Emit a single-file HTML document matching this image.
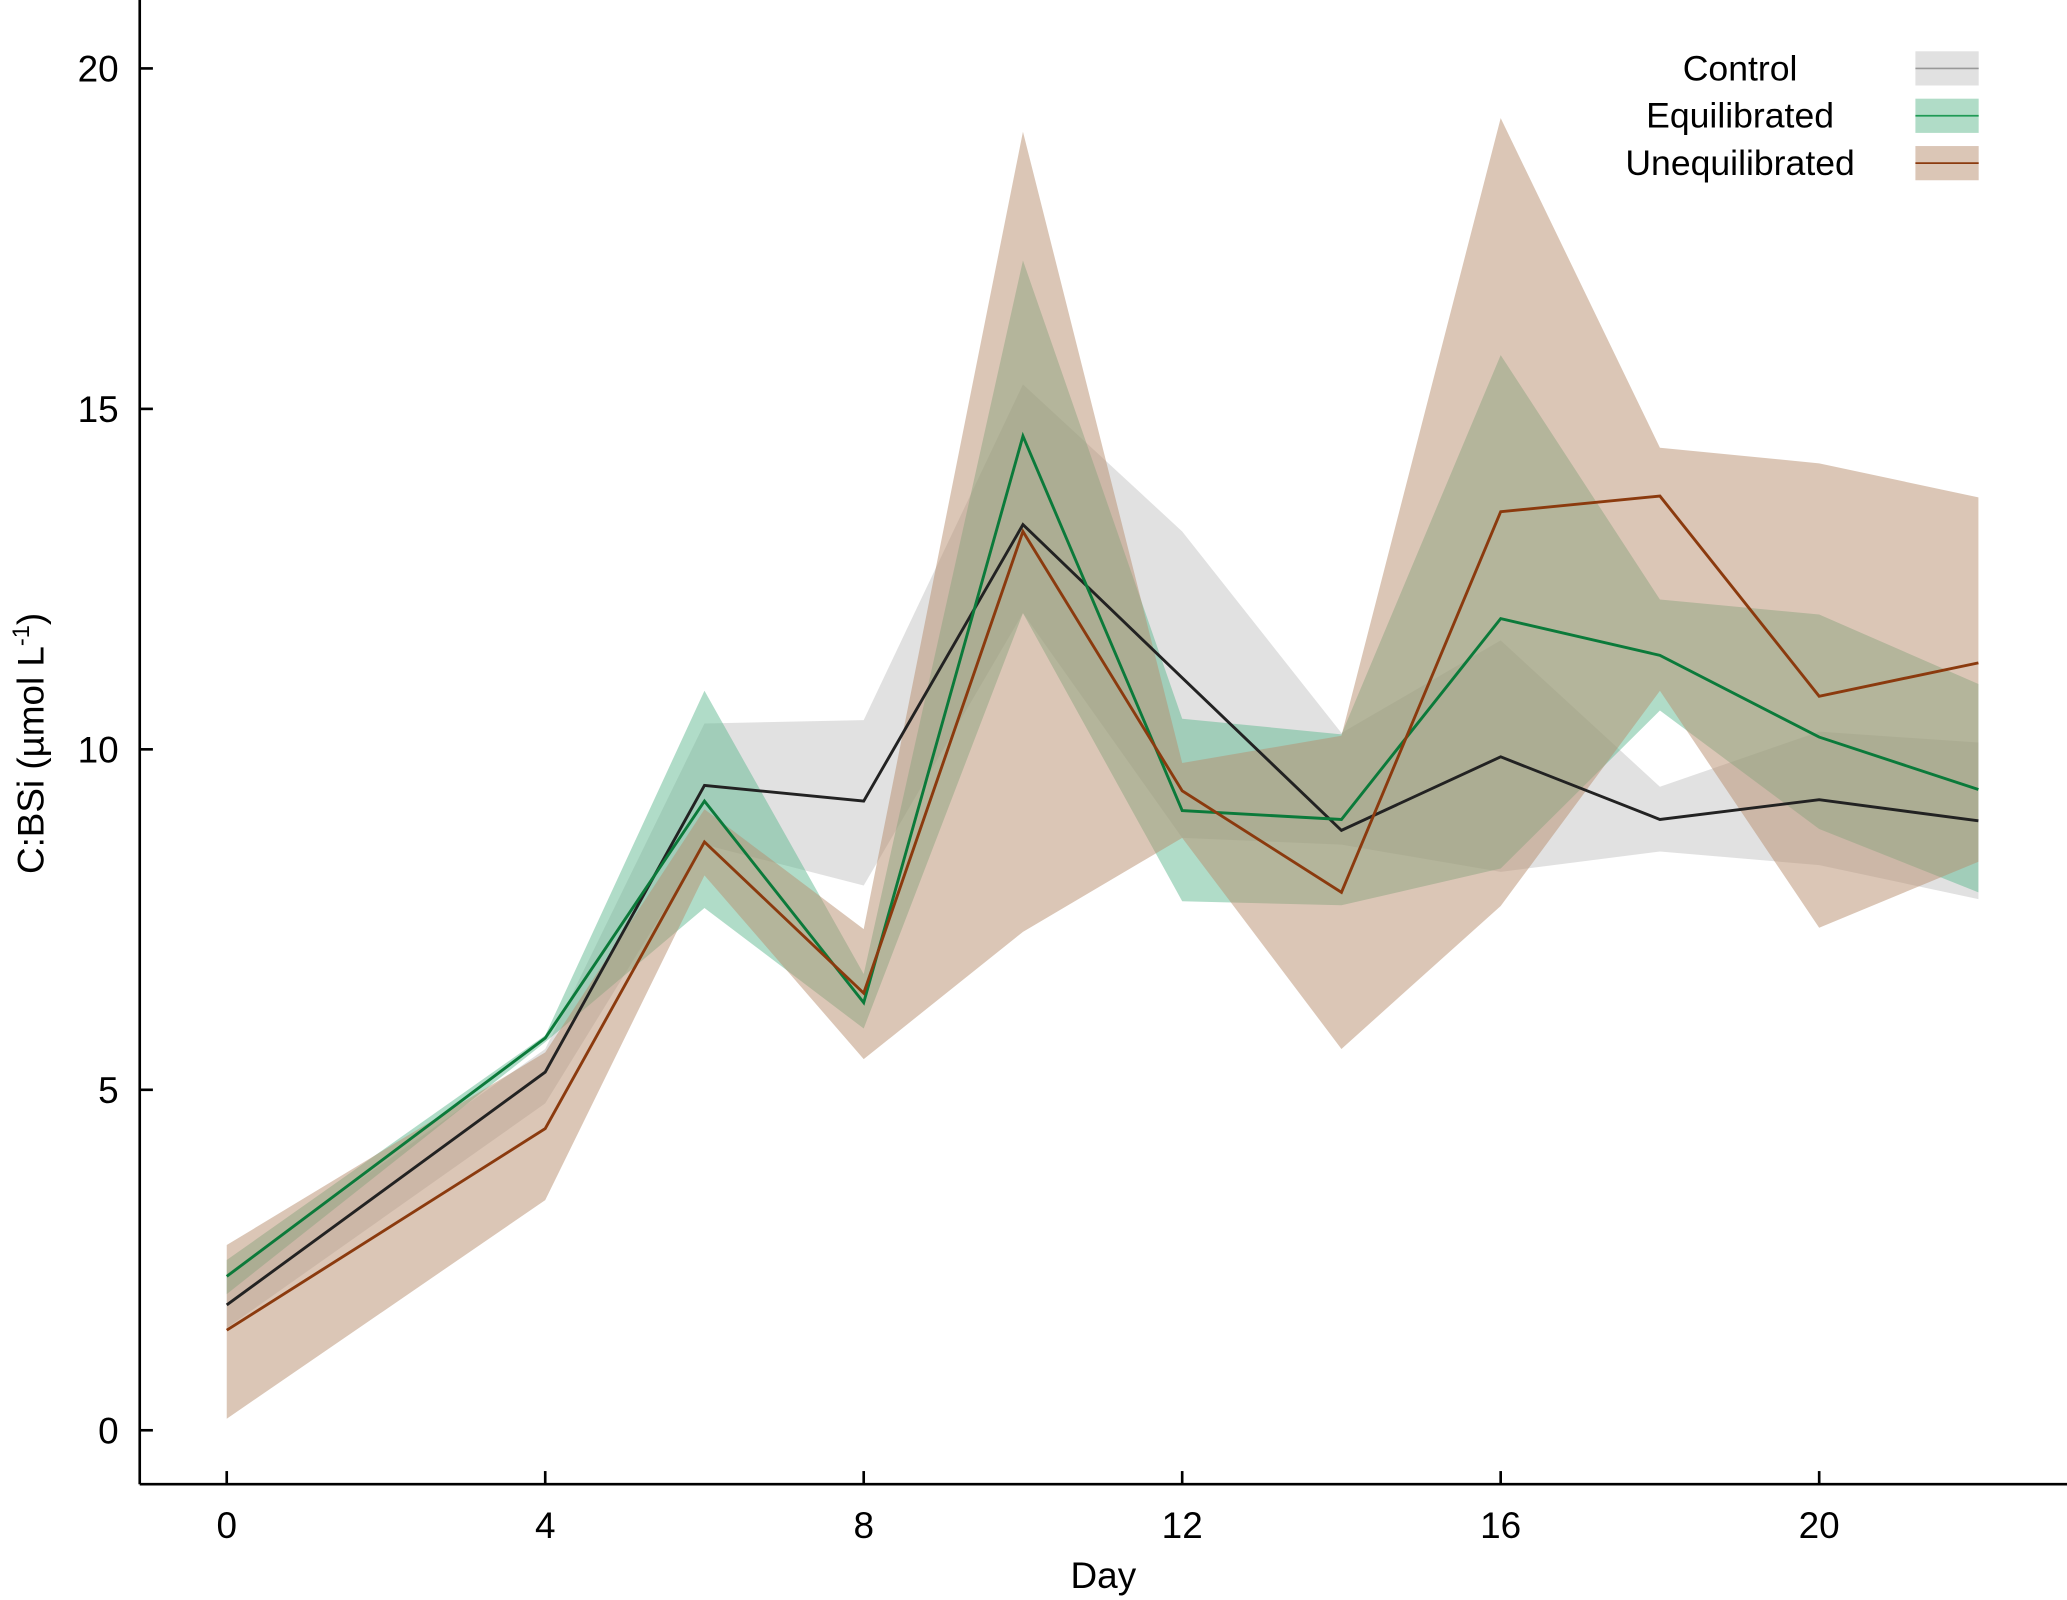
<!DOCTYPE html>
<html><head><meta charset="utf-8"><style>
html,body{margin:0;padding:0;background:#fff;}
svg{display:block;font-family:"Liberation Sans",Arial,sans-serif;}
</style></head><body>
<svg id="chart" width="2067" height="1600" viewBox="0 0 1568 1216" preserveAspectRatio="none" xmlns="http://www.w3.org/2000/svg">
<g id="bands"></g><g id="lines"></g>
<g id="axes"></g>
<g id="legend"></g>
</svg>
<script>
const days = [0,4,6,8,10,12,14,16,18,20,22];
const controlMean = [1.84,5.26,9.47,9.24,13.3,11.05,8.81,9.89,8.97,9.26,8.95];
const controlHi = [2.3,5.6,10.38,10.43,15.36,13.2,10.24,11.6,9.45,10.26,10.1];
const controlLo = [1.5,4.8,8.6,8.0,12.0,8.7,8.6,8.2,8.5,8.3,7.8];
const equilMean = [2.26,5.76,9.24,6.28,14.6,9.1,8.97,11.92,11.38,10.18,9.41];
const equilHi = [2.5,5.8,10.86,6.7,17.18,10.45,10.22,15.79,12.2,11.98,10.96];
const equilLo = [2.0,5.7,7.67,5.9,12.0,7.77,7.71,8.25,10.57,8.83,7.9];
const unequilMean = [1.47,4.43,8.64,6.42,13.2,9.39,7.9,13.49,13.72,10.78,11.27];
const unequilHi = [2.72,5.55,9.12,7.36,19.07,9.8,10.2,19.27,14.43,14.2,13.7];
const unequilLo = [0.17,3.38,8.15,5.45,7.32,8.7,5.6,7.7,10.86,7.38,8.35];
const xTicks = [0,4,8,12,16,20];
const yTicks = [0,5,10,15,20];
const seriesNames = ["Control","Equilibrated","Unequilibrated"];

const NS="http://www.w3.org/2000/svg";
const X=d=>172+d*(1380-172)/20;
const Y=v=>1087-v*(1087-52)/20;
function mk(tag,attrs,parent){const e=document.createElementNS(NS,tag);for(const k in attrs)e.setAttribute(k,attrs[k]);parent.appendChild(e);return e;}
const bands=document.getElementById('bands'),lines=document.getElementById('lines'),axes=document.getElementById('axes'),legend=document.getElementById('legend');
const series=[
 {name:'control',mean:controlMean,hi:controlHi,lo:controlLo,fill:'rgba(195,195,195,0.5)',line:'#222'},
 {name:'equilibrated',mean:equilMean,hi:equilHi,lo:equilLo,fill:'rgba(98,185,145,0.5)',line:'#0b7a3a'},
 {name:'unequilibrated',mean:unequilMean,hi:unequilHi,lo:unequilLo,fill:'rgba(183,141,110,0.5)',line:'#8b3a0e'}];
series.forEach(s=>{
 let pts=days.map((d,i)=>X(d)+','+Y(s.hi[i]));
 for(let i=days.length-1;i>=0;i--)pts.push(X(days[i])+','+Y(s.lo[i]));
 const p=mk('polygon',{points:pts.join(' '),fill:s.fill},bands);
 
 
});
series.forEach(s=>{
 const l=mk('polyline',{points:days.map((d,i)=>X(d)+','+Y(s.mean[i])).join(' '),fill:'none',stroke:s.line,'stroke-width':2.2},lines);
 
 
});
mk('line',{x1:106,y1:0,x2:106,y2:1128,stroke:'#000','stroke-width':2},axes);
mk('line',{x1:106,y1:1128,x2:1568,y2:1128,stroke:'#000','stroke-width':2},axes);
xTicks.forEach(t=>{
 mk('line',{x1:X(t),y1:1118,x2:X(t),y2:1128,stroke:'#000','stroke-width':2},axes);
 const tx=mk('text',{x:X(t),y:1169,'font-size':28,'text-anchor':'middle'},axes);tx.textContent=t;
 
 
});
yTicks.forEach(t=>{
 mk('line',{x1:106,y1:Y(t),x2:116,y2:Y(t),stroke:'#000','stroke-width':2},axes);
 const tx=mk('text',{x:90,y:Y(t)+10,'font-size':28,'text-anchor':'end'},axes);tx.textContent=t;
 
 
});
const xt=mk('text',{x:837,y:1207,'font-size':28,'text-anchor':'middle'},axes);xt.textContent='Day';


const yt=mk('text',{transform:'translate(33,565) rotate(-90)','font-size':28,'text-anchor':'middle'},axes);
yt.innerHTML='C:BSi (µmol L<tspan dy="-11" font-size="18">-1</tspan><tspan dy="11">)</tspan>';


const legFill=['#e1e1e1','#b0dcc7','#dbc6b6'],legLine=['#999','#1f9a55','#8b3a0e'];
seriesNames.forEach((n,i)=>{
 const cy=52+i*36;
 const t=mk('text',{x:1320,y:cy+9,'font-size':27,'text-anchor':'middle'},legend);t.textContent=n;
 
 
 const r=mk('rect',{x:1453,y:cy-13,width:48,height:26,fill:legFill[i]},legend);
 
 
 mk('line',{x1:1453,y1:cy,x2:1501,y2:cy,stroke:legLine[i],'stroke-width':1.3},legend);
});
</script>
</body></html>
